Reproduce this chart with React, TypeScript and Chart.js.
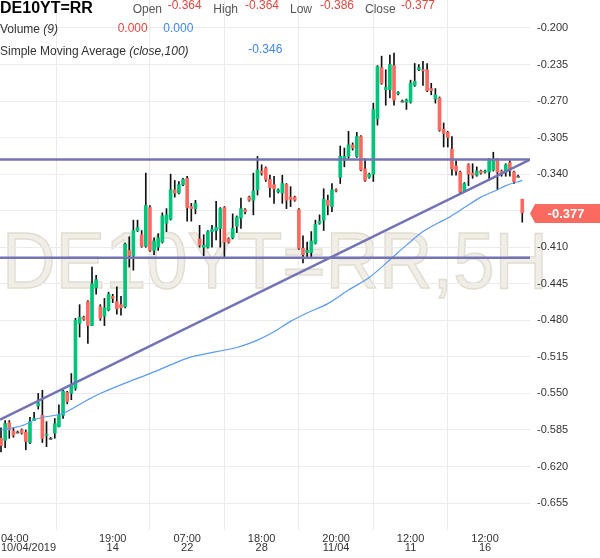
import React, { useEffect, useRef } from 'react';
import { Chart, registerables } from 'chart.js';

Chart.register(...registerables);

// ---- data (5H candles, DE10YT=RR) ----
const opens = [
  -0.593, -0.595, -0.578, -0.586, -0.587, -0.585, -0.587, -0.597, -0.576, -0.562,
  -0.571, -0.590, -0.593, -0.588, -0.582, -0.571, -0.549, -0.550, -0.545, -0.483,
  -0.477, -0.462, -0.485, -0.449, -0.467, -0.476, -0.470, -0.457, -0.462, -0.465,
  -0.467, -0.413, -0.418, -0.394, -0.398, -0.409, -0.372, -0.413, -0.410, -0.405,
  -0.387, -0.383, -0.355, -0.358, -0.350, -0.344, -0.371, -0.373, -0.402, -0.410,
  -0.410, -0.395, -0.394, -0.392, -0.372, -0.402, -0.401, -0.390, -0.382, -0.374,
  -0.362, -0.365, -0.355, -0.337, -0.334, -0.345, -0.350, -0.357, -0.358, -0.350,
  -0.362, -0.362, -0.374, -0.411, -0.415, -0.415, -0.406, -0.387, -0.384, -0.365,
  -0.371, -0.355, -0.343, -0.327, -0.323, -0.312, -0.323, -0.304, -0.335, -0.343,
  -0.340, -0.287, -0.238, -0.259, -0.259, -0.236, -0.263, -0.270, -0.271, -0.271,
  -0.255, -0.240, -0.240, -0.240, -0.258, -0.268, -0.267, -0.297, -0.300, -0.316,
  -0.332, -0.338, -0.356, -0.331, -0.339, -0.341, -0.337, -0.338, -0.338, -0.336,
  -0.326, -0.337, -0.338, -0.329, -0.338, -0.342, -0.364,
];
const highs = [
  -0.583, -0.576, -0.576, -0.583, -0.586, -0.584, -0.585, -0.573, -0.568, -0.550,
  -0.547, -0.577, -0.592, -0.574, -0.561, -0.547, -0.548, -0.531, -0.478, -0.465,
  -0.476, -0.461, -0.429, -0.437, -0.465, -0.459, -0.453, -0.455, -0.448, -0.457,
  -0.406, -0.400, -0.384, -0.384, -0.394, -0.339, -0.370, -0.401, -0.397, -0.377,
  -0.373, -0.340, -0.346, -0.347, -0.344, -0.342, -0.368, -0.365, -0.389, -0.398,
  -0.394, -0.389, -0.366, -0.372, -0.371, -0.401, -0.378, -0.380, -0.363, -0.373,
  -0.361, -0.339, -0.323, -0.331, -0.333, -0.341, -0.342, -0.354, -0.341, -0.349,
  -0.352, -0.361, -0.373, -0.399, -0.405, -0.395, -0.384, -0.379, -0.354, -0.360,
  -0.349, -0.354, -0.313, -0.315, -0.299, -0.310, -0.300, -0.303, -0.325, -0.339,
  -0.272, -0.236, -0.227, -0.240, -0.226, -0.224, -0.261, -0.269, -0.268, -0.250,
  -0.234, -0.235, -0.232, -0.234, -0.253, -0.258, -0.266, -0.291, -0.299, -0.304,
  -0.327, -0.337, -0.348, -0.330, -0.330, -0.333, -0.336, -0.336, -0.325, -0.319,
  -0.325, -0.336, -0.330, -0.327, -0.337, -0.341, -0.364,
];
const lows = [
  -0.606, -0.602, -0.593, -0.592, -0.588, -0.589, -0.604, -0.598, -0.576, -0.565,
  -0.597, -0.601, -0.594, -0.593, -0.582, -0.574, -0.560, -0.556, -0.547, -0.496,
  -0.480, -0.502, -0.485, -0.455, -0.480, -0.485, -0.471, -0.463, -0.474, -0.475,
  -0.468, -0.429, -0.432, -0.395, -0.410, -0.410, -0.414, -0.417, -0.413, -0.406,
  -0.395, -0.384, -0.362, -0.359, -0.351, -0.385, -0.385, -0.378, -0.410, -0.418,
  -0.411, -0.410, -0.403, -0.410, -0.419, -0.406, -0.402, -0.396, -0.392, -0.378,
  -0.366, -0.379, -0.360, -0.341, -0.347, -0.362, -0.368, -0.358, -0.368, -0.373,
  -0.371, -0.366, -0.412, -0.425, -0.419, -0.421, -0.407, -0.388, -0.394, -0.379,
  -0.376, -0.357, -0.349, -0.333, -0.325, -0.317, -0.324, -0.337, -0.347, -0.344,
  -0.347, -0.293, -0.254, -0.274, -0.267, -0.274, -0.264, -0.271, -0.278, -0.272,
  -0.256, -0.241, -0.255, -0.261, -0.264, -0.272, -0.299, -0.314, -0.314, -0.341,
  -0.341, -0.358, -0.357, -0.351, -0.344, -0.342, -0.340, -0.339, -0.346, -0.337,
  -0.355, -0.342, -0.342, -0.342, -0.349, -0.343, -0.386,
];
const closes = [
  -0.600, -0.579, -0.585, -0.590, -0.587, -0.588, -0.596, -0.577, -0.574, -0.559,
  -0.593, -0.589, -0.593, -0.579, -0.571, -0.548, -0.558, -0.542, -0.480, -0.477,
  -0.479, -0.485, -0.445, -0.441, -0.478, -0.468, -0.455, -0.459, -0.469, -0.468,
  -0.407, -0.418, -0.394, -0.391, -0.409, -0.370, -0.413, -0.404, -0.401, -0.380,
  -0.379, -0.355, -0.358, -0.350, -0.345, -0.372, -0.373, -0.368, -0.408, -0.408,
  -0.395, -0.393, -0.391, -0.373, -0.405, -0.405, -0.392, -0.381, -0.373, -0.376,
  -0.365, -0.356, -0.336, -0.339, -0.345, -0.353, -0.354, -0.355, -0.349, -0.365,
  -0.364, -0.365, -0.411, -0.417, -0.413, -0.404, -0.388, -0.385, -0.364, -0.370,
  -0.355, -0.356, -0.323, -0.323, -0.312, -0.315, -0.304, -0.336, -0.346, -0.340,
  -0.278, -0.237, -0.253, -0.257, -0.235, -0.269, -0.262, -0.270, -0.269, -0.253,
  -0.251, -0.238, -0.241, -0.260, -0.260, -0.264, -0.298, -0.301, -0.305, -0.335,
  -0.337, -0.357, -0.349, -0.340, -0.341, -0.337, -0.339, -0.337, -0.326, -0.326,
  -0.338, -0.339, -0.331, -0.336, -0.347, -0.342, -0.377,
];

// Simple moving average (close, 100) read at candle indices
const smaIdx = [0, 5, 9, 15, 21, 24, 32, 36, 42, 46, 57, 62, 66, 70, 74, 79, 84, 89, 94, 98, 102, 106, 108, 112, 116, 120, 122, 126];
const smaVal = [
  -0.585, -0.581, -0.574, -0.569, -0.556, -0.550, -0.537, -0.531, -0.521, -0.515,
  -0.506, -0.499, -0.491, -0.481, -0.473, -0.464, -0.451, -0.439, -0.422, -0.408,
  -0.395, -0.386, -0.382, -0.372, -0.362, -0.355, -0.351, -0.346,
];

// drawn lines
const hLevels = [-0.326, -0.42];
const trendStartVal = -0.575;
const trendEndVal = -0.326;

// axis ticks
const xTickIdx = [0, 27, 45, 63, 81, 99, 117];
const xTickTime = ['04:00', '19:00', '07:00', '18:00', '20:00', '12:00', '12:00'];
const xTickDate = ['10/04/2019', '14', '22', '28', '11/04', '11', '16'];
const yTickVals = [-0.2, -0.235, -0.27, -0.305, -0.34, -0.375, -0.41, -0.445, -0.48, -0.515, -0.55, -0.585, -0.62, -0.655];

const X_MIN = -0.242;
const X_MAX = 127.87;
const Y_MIN = -0.6808;
const Y_MAX = -0.1732;

const GREEN = '#00c479';
const RED = '#fb6a60';
const DOJI = '#666666';
const LINE_COLOR = '#7373b6';
const SMA_COLOR = '#5b9bf5';
const HDR_RED = '#e2473f';
const HDR_BLUE = '#3f86f2';
const FONT = '"Liberation Sans", Arial, Helvetica, sans-serif';

const WATERMARK = 'DE10YT=RR,5H';

const watermarkPlugin = {
  id: 'watermark',
  beforeDraw(chart: any) {
    const ctx = chart.ctx;
    ctx.save();
    ctx.font = `80px ${FONT}`;
    ctx.textAlign = 'center';
    ctx.textBaseline = 'alphabetic';
    ctx.fillStyle = '#f1eee7';
    ctx.strokeStyle = '#e2ddd1';
    ctx.lineWidth = 1.5;
    ctx.fillText(WATERMARK, 275, 287.5, 546);
    ctx.strokeText(WATERMARK, 275, 287.5, 546);
    ctx.restore();
  },
};

const priceTagPlugin = {
  id: 'priceTag',
  afterDraw(chart: any) {
    const ctx = chart.ctx;
    const last = closes[closes.length - 1];
    const y = Math.round(chart.scales.y.getPixelForValue(last)) + 0.5;
    const left = chart.chartArea.right;
    ctx.save();
    ctx.fillStyle = RED;
    ctx.beginPath();
    ctx.moveTo(left, y);
    ctx.lineTo(left + 5, y - 9.5);
    ctx.lineTo(600, y - 9.5);
    ctx.lineTo(600, y + 9.5);
    ctx.lineTo(left + 5, y + 9.5);
    ctx.closePath();
    ctx.fill();
    ctx.fillStyle = '#ffffff';
    ctx.font = `bold 13px ${FONT}`;
    ctx.textAlign = 'center';
    ctx.textBaseline = 'middle';
    ctx.fillText(last.toFixed(3), 566, y + 0.5);
    ctx.restore();
  },
};

function candleColor(i: number) {
  if (closes[i] > opens[i]) return GREEN;
  if (closes[i] < opens[i]) return RED;
  return DOJI;
}

export default function App() {
  const ref = useRef<HTMLCanvasElement | null>(null);

  useEffect(() => {
    if (!ref.current) return;
    const idx = opens.map((_, i) => i);
    const chart = new Chart(ref.current, {
      type: 'bar',
      data: {
        datasets: [
          {
            type: 'line',
            label: 'levels-upper',
            data: [{ x: X_MIN, y: hLevels[0] }, { x: X_MAX, y: hLevels[0] }],
            borderColor: LINE_COLOR,
            borderWidth: 2.5,
            pointRadius: 0,
            order: 0,
          } as any,
          {
            type: 'line',
            label: 'levels-lower',
            data: [{ x: X_MIN, y: hLevels[1] }, { x: X_MAX, y: hLevels[1] }],
            borderColor: LINE_COLOR,
            borderWidth: 2.5,
            pointRadius: 0,
            order: 0,
          } as any,
          {
            type: 'line',
            label: 'trend',
            data: [{ x: X_MIN, y: trendStartVal }, { x: X_MAX, y: trendEndVal }],
            borderColor: LINE_COLOR,
            borderWidth: 2.5,
            pointRadius: 0,
            order: 0,
          } as any,
          {
            type: 'line',
            label: 'SMA',
            data: smaIdx.map((x, k) => ({ x, y: smaVal[k] })),
            borderColor: SMA_COLOR,
            borderWidth: 1.2,
            pointRadius: 0,
            tension: 0.3,
            order: 0,
          } as any,
          {
            label: 'body',
            data: idx.map((i) => ({ x: i, y: [opens[i], closes[i]] })),
            backgroundColor: idx.map(candleColor),
            barThickness: 3,
            minBarLength: 1,
            grouped: false,
            order: 1,
          } as any,
          {
            label: 'wick',
            data: idx.map((i) => ({ x: i, y: [lows[i], highs[i]] })),
            backgroundColor: '#111111',
            barThickness: 1,
            minBarLength: 1,
            grouped: false,
            order: 2,
          } as any,
        ],
      },
      options: {
        animation: false,
        responsive: false,
        devicePixelRatio: 1,
        layout: { padding: 0 },
        plugins: {
          legend: { display: false },
          tooltip: { enabled: false },
        },
        scales: {
          x: {
            type: 'linear',
            min: X_MIN,
            max: X_MAX,
            offset: false,
            border: { display: false },
            grid: {
              drawTicks: false,
              color: (c: any) => (c.tick && c.tick.value === X_MAX ? 'rgba(0,0,0,0)' : '#ebebeb'),
            },
            afterBuildTicks: (s: any) => {
              s.ticks = [...xTickIdx, X_MAX].map((v) => ({ value: v }));
            },
            afterFit: (s: any) => {
              s.height = 28;
              s.paddingLeft = 0;
              s.paddingRight = 0;
            },
            ticks: {
              autoSkip: false,
              maxRotation: 0,
              minRotation: 0,
              align: 'inner',
              padding: 4,
              color: '#333333',
              font: { family: FONT, size: 11, lineHeight: 0.82 },
              callback: (v: any) => {
                const k = xTickIdx.indexOf(v);
                return k >= 0 ? [xTickTime[k], xTickDate[k]] : '';
              },
            },
          } as any,
          y: {
            position: 'right',
            min: Y_MIN,
            max: Y_MAX,
            border: { display: false },
            grid: { drawTicks: false, color: '#ebebeb' },
            afterBuildTicks: (s: any) => {
              s.ticks = yTickVals.map((v) => ({ value: v }));
            },
            afterFit: (s: any) => {
              s.width = 70;
              s.paddingTop = 0;
              s.paddingBottom = 0;
            },
            ticks: {
              padding: 7,
              color: '#333333',
              font: { family: FONT, size: 11 },
              callback: (v: any) => Number(v).toFixed(3),
            },
          } as any,
        },
      },
      plugins: [watermarkPlugin, priceTagPlugin],
    });
    return () => chart.destroy();
  }, []);

  const base: React.CSSProperties = {
    position: 'absolute',
    whiteSpace: 'nowrap',
    fontFamily: FONT,
    fontSize: 12,
    lineHeight: '12px',
  };
  const lab: React.CSSProperties = { ...base, color: '#555555' };

  return (
    <div style={{ position: 'absolute', left: 0, top: 0, width: 600, height: 558, background: '#ffffff', overflow: 'hidden' }}>
      <canvas ref={ref} width={600} height={558} style={{ position: 'absolute', left: 0, top: 0 }} />
      <span style={{ ...base, left: 0, top: 0, fontSize: 16, lineHeight: '16px', fontWeight: 'bold', color: '#000000' }}>DE10YT=RR</span>
      <span style={{ ...lab, left: 132.7, top: 2.5 }}>Open</span>
      <span style={{ ...base, left: 167.7, top: -1, color: HDR_RED }}>-0.364</span>
      <span style={{ ...lab, left: 213.3, top: 2.5 }}>High</span>
      <span style={{ ...base, left: 245, top: -1, color: HDR_RED }}>-0.364</span>
      <span style={{ ...lab, left: 290, top: 2.5 }}>Low</span>
      <span style={{ ...base, left: 320, top: -1, color: HDR_RED }}>-0.386</span>
      <span style={{ ...lab, left: 365, top: 2.5 }}>Close</span>
      <span style={{ ...base, left: 401, top: -1, color: HDR_RED }}>-0.377</span>
      <span style={{ ...base, left: 0, top: 23.3, color: '#333333' }}>
        Volume <i>(9)</i>
      </span>
      <span style={{ ...base, left: 117.7, top: 21.5, color: HDR_RED }}>0.000</span>
      <span style={{ ...base, left: 163.3, top: 21.5, color: HDR_BLUE }}>0.000</span>
      <span style={{ ...base, left: 0, top: 44.8, color: '#333333' }}>
        Simple Moving Average <i>(close,100)</i>
      </span>
      <span style={{ ...base, left: 248.3, top: 43.1, color: HDR_BLUE }}>-0.346</span>
    </div>
  );
}
